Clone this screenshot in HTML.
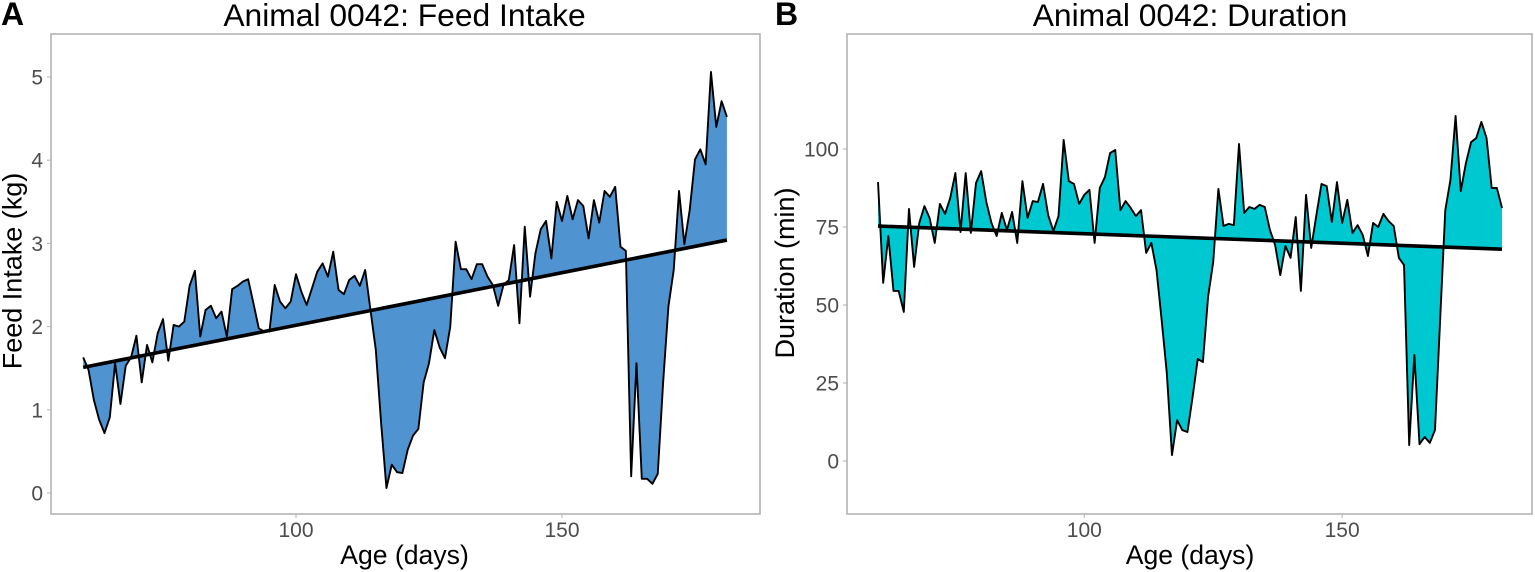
<!DOCTYPE html>
<html lang="en">
<head>
<meta charset="utf-8">
<title>Animal 0042: Feed Intake and Duration</title>
<style>
html,body{margin:0;padding:0;background:#fff;width:1535px;height:572px;overflow:hidden}
svg{display:block;font-family:"Liberation Sans",sans-serif}
</style>
</head>
<body>
<svg id="figure" xmlns="http://www.w3.org/2000/svg" width="1535" height="572" viewBox="0 0 1535 572"></svg>
<script>
var startAge = 60;
var feedIntake = [1.63,1.48,1.12,.88,.72,.91,1.56,1.07,1.53,1.63,1.89,1.33,1.78,1.57,1.92,2.09,1.59,2.02,2.00,2.06,2.49,2.67,1.88,2.20,2.25,2.10,2.18,1.88,2.45,2.49,2.54,2.57,2.28,1.98,1.94,1.94,2.50,2.30,2.22,2.30,2.63,2.42,2.26,2.46,2.66,2.76,2.60,2.90,2.44,2.39,2.56,2.61,2.49,2.68,2.20,1.72,.84,.06,.34,.25,.24,.52,.69,.77,1.33,1.56,1.96,1.75,1.62,2.00,3.02,2.69,2.69,2.57,2.75,2.75,2.60,2.50,2.25,2.50,2.56,2.98,2.04,3.20,2.36,2.88,3.17,3.27,2.82,3.50,3.27,3.57,3.29,3.52,3.45,3.06,3.52,3.25,3.63,3.56,3.68,2.96,2.91,.20,1.56,.17,.17,.11,.23,1.32,2.24,2.68,3.63,2.99,3.40,4.01,4.13,3.95,5.06,4.40,4.71,4.52];
var duration = [89.4,57.1,72.1,54.5,54.5,47.8,80.8,62.2,76.3,81.7,77.9,69.9,82.4,79.2,84.3,92.3,73.4,92.3,73.1,89.1,92.9,83.0,76.3,72.1,79.5,74.0,79.8,69.9,89.7,77.9,83.3,83.0,88.8,78.8,73.7,78.5,102.9,89.7,88.8,82.4,85.3,86.9,69.9,87.5,91.0,98.7,99.7,80.4,83.3,81.1,78.5,80.4,66.7,69.9,61.2,45.2,28.2,1.9,13.1,9.9,9.3,20.5,32.7,31.7,52.6,63.8,87.2,75.3,76.0,75.6,101.6,79.5,81.4,80.8,82.1,81.4,74.0,69.2,59.6,68.9,65.1,78.2,54.5,85.3,68.3,78.8,88.8,88.1,76.6,89.4,76.3,83.7,73.1,75.6,72.4,65.7,76.3,75.0,79.2,76.9,75.3,65.1,62.8,5.1,34.0,5.4,7.7,5.8,9.9,45.2,80.4,90.1,110.6,86.5,95.5,102.2,103.5,108.7,103.5,87.5,87.5,81.1];
var trendAges = [60,181];
var trendIntake = [1.51,3.04];
var trendDuration = [75.3,67.9];
var intakeYTicks = [0,1,2,3,4,5];
var durationYTicks = [0,25,50,75,100];
var ageTicks = [100,150];

var NS = 'http://www.w3.org/2000/svg';
var root = document.getElementById('figure');

function make(parent, tag, attrs, text) {
  var el = document.createElementNS(NS, tag);
  for (var k in attrs) el.setAttribute(k, attrs[k]);
  if (text !== undefined) el.textContent = text;
  parent.appendChild(el);
  return el;
}

function drawPanel(cfg) {
  var g = make(root, 'g', {});
  
  

  var xs = function (age) { return cfg.x100 + (age - 100) * cfg.pxPerDay; };
  var ys = function (v) { return cfg.y0 - v * cfg.pxPerUnit; };
  var age = function (i) { return startAge + i; };

  var letter = make(g, 'text', {x: cfg.letterX, y: 25, 'font-size': 32, 'font-weight': 'bold', fill: '#000'}, cfg.letter);
  
  

  var title = make(g, 'text', {x: cfg.titleX, y: 26, 'font-size': 31.8, 'text-anchor': 'middle', fill: '#000'}, cfg.title);
  
  

  var pts = cfg.values.map(function (v, i) { return xs(age(i)).toFixed(2) + ',' + ys(v).toFixed(2); });
  var trendPts = [
    xs(trendAges[0]).toFixed(2) + ',' + ys(cfg.trend[0]).toFixed(2),
    xs(trendAges[1]).toFixed(2) + ',' + ys(cfg.trend[1]).toFixed(2)
  ];

  var area = make(g, 'polygon', {points: pts.join(' ') + ' ' + trendPts[1] + ' ' + trendPts[0], fill: cfg.fill, stroke: 'none'});
  
  

  var line = make(g, 'polyline', {points: pts.join(' '), fill: 'none', stroke: '#000', 'stroke-width': 1.9, 'stroke-linejoin': 'round'});
  
  

  var trend = make(g, 'polyline', {points: trendPts.join(' '), fill: 'none', stroke: '#000', 'stroke-width': 3.6});
  
  

  var frame = make(g, 'rect', {x: cfg.left, y: 34, width: cfg.right - cfg.left, height: 480, fill: 'none', stroke: '#b3b3b3', 'stroke-width': 1.6});
  
  

  cfg.yTicks.forEach(function (t) {
    var tick = make(g, 'line', {x1: cfg.left - 4, x2: cfg.left, y1: ys(t), y2: ys(t), stroke: '#b3b3b3', 'stroke-width': 1});
    
    
    var lab = make(g, 'text', {x: cfg.left - 8, y: ys(t) + 7.5, 'font-size': 21, 'text-anchor': 'end', fill: '#4d4d4d'}, String(t));
    
    
  });

  ageTicks.forEach(function (t) {
    var tick = make(g, 'line', {x1: xs(t), x2: xs(t), y1: 514, y2: 518, stroke: '#b3b3b3', 'stroke-width': 1});
    
    
    var lab = make(g, 'text', {x: xs(t), y: 537, 'font-size': 21, 'text-anchor': 'middle', fill: '#4d4d4d'}, String(t));
    
    
  });

  var xTitle = make(g, 'text', {x: cfg.titleX, y: 564, 'font-size': 26.6, 'text-anchor': 'middle', fill: '#000'}, 'Age (days)');
  
  

  var yTitle = make(g, 'text', {x: 0, y: 0, 'font-size': 27, 'text-anchor': 'middle', fill: '#000', transform: 'translate(' + cfg.yTitleX + ',' + cfg.yTitleY + ') rotate(-90)'}, cfg.yTitle);
  
  
}

drawPanel({key: 'intake', letter: 'A', letterX: 1, title: 'Animal 0042: Feed Intake', titleX: 404.5, yTitle: 'Feed Intake (kg)', yTitleX: 21.5, yTitleY: 271, left: 51, right: 760, x100: 296, pxPerDay: 5.32, y0: 493, pxPerUnit: 83.2, values: feedIntake, trend: trendIntake, yTicks: intakeYTicks, fill: '#4f94d0'});
drawPanel({key: 'duration', letter: 'B', letterX: 775, title: 'Animal 0042: Duration', titleX: 1190, yTitle: 'Duration (min)', yTitleX: 794, yTitleY: 273, left: 847, right: 1532, x100: 1084.3, pxPerDay: 5.157, y0: 461, pxPerUnit: 3.12, values: duration, trend: trendDuration, yTicks: durationYTicks, fill: '#00c8d0'});
</script>
</body>
</html>
